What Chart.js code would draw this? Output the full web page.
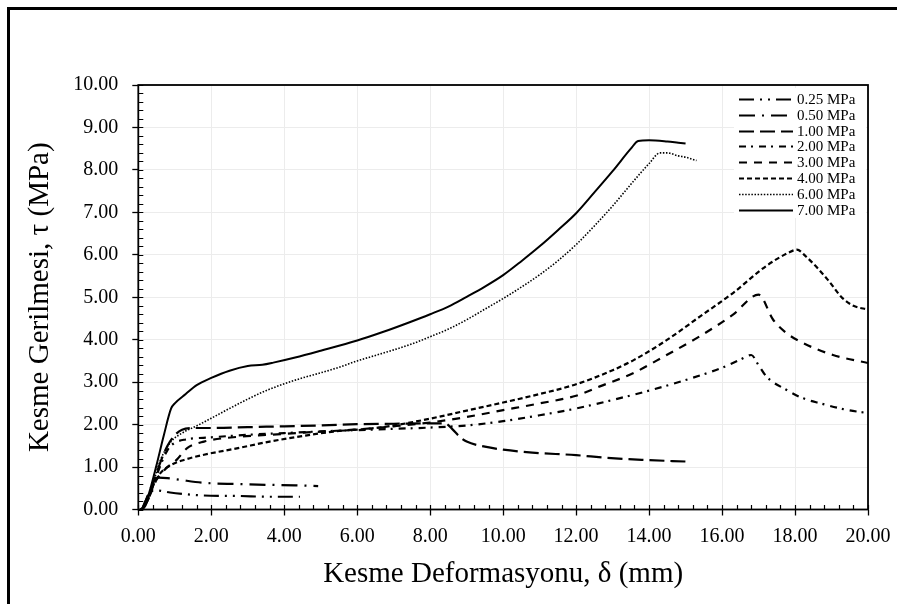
<!DOCTYPE html>
<html>
<head>
<meta charset="utf-8">
<script src="https://cdn.jsdelivr.net/npm/chart.js@4.4.0/dist/chart.umd.min.js"></script>
<style>
  html, body { margin: 0; padding: 0; background: #fff; overflow: hidden; }
  #wrap { position: relative; width: 897px; height: 604px; }
  #frame { position: absolute; left: 7px; top: 7px; width: 900px; height: 610px;
           border-left: 3px solid #000; border-top: 3px solid #000; box-sizing: border-box;
           pointer-events: none; }
  canvas { position: absolute; left: 0; top: 0; }
</style>
</head>
<body>
<div id="wrap">
  <canvas id="c" width="897" height="604"></canvas>
  <div id="frame"></div>
</div>
<script>
// Shear displacement δ (mm) and shear stress τ (MPa) for each normal stress level
const seriesLabels = ['0.25 MPa', '0.50 MPa', '1.00 MPa', '2.00 MPa', '3.00 MPa', '4.00 MPa', '6.00 MPa', '7.00 MPa'];

const d025 = [0.1, 0.2, 0.32, 0.5, 0.87, 1.3, 1.78, 2.7, 3.6, 4.43];
const t025 = [0, 0.2, 0.42, 0.45, 0.40, 0.36, 0.33, 0.32, 0.30, 0.30];

const d050 = [0.1, 0.25, 0.4, 0.55, 0.8, 1.14, 1.78, 2.7, 3.6, 4.3, 4.93];
const t050 = [0, 0.3, 0.62, 0.75, 0.74, 0.70, 0.63, 0.60, 0.58, 0.57, 0.55];

const d100 = [0.1, 0.2, 0.4, 0.6, 0.8, 1.0, 1.2, 1.5, 2.0, 3.0, 4.0, 5.0, 6.0, 7.0, 8.0, 8.4, 8.6, 8.8, 9.0, 9.5, 10.0, 10.8, 12.0, 12.8, 13.8, 15.0];
const t100 = [0, 0.1, 0.6, 1.1, 1.5, 1.75, 1.88, 1.92, 1.92, 1.94, 1.96, 1.98, 2.01, 2.02, 2.03, 2.03, 1.9, 1.72, 1.6, 1.48, 1.41, 1.34, 1.28, 1.22, 1.17, 1.13];

const d200 = [0.1, 0.3, 0.5, 0.8, 1.0, 1.3, 2.0, 3.0, 4.0, 5.0, 6.0, 7.0, 8.0, 9.0, 10.0, 11.0, 12.0, 13.0, 14.0, 15.0, 16.0, 16.5, 16.8, 17.0, 17.22, 17.76, 18.22, 18.7, 19.4, 20.0];
const t200 = [0, 0.3, 0.8, 1.4, 1.57, 1.65, 1.70, 1.76, 1.80, 1.84, 1.87, 1.90, 1.93, 1.98, 2.08, 2.22, 2.38, 2.58, 2.80, 3.05, 3.34, 3.53, 3.64, 3.40, 3.13, 2.82, 2.62, 2.5, 2.35, 2.27];

const d300 = [0.1, 0.3, 0.5, 0.8, 1.05, 1.33, 1.8, 2.7, 3.6, 4.5, 5.9, 7.0, 8.0, 9.0, 10.0, 11.0, 12.0, 12.65, 13.56, 14.48, 15.39, 16.3, 17.0, 17.4, 17.76, 18.13, 19.04, 20.0];
const t300 = [0, 0.3, 0.7, 1.0, 1.17, 1.44, 1.60, 1.71, 1.76, 1.81, 1.88, 1.96, 2.05, 2.18, 2.34, 2.5, 2.68, 2.90, 3.21, 3.64, 4.08, 4.59, 5.06, 4.47, 4.16, 3.96, 3.64, 3.45];

const d400 = [0.1, 0.25, 0.4, 0.6, 0.9, 1.3, 1.8, 2.7, 3.6, 4.5, 5.4, 6.4, 7.0, 8.0, 9.0, 10.0, 11.0, 12.0, 13.0, 13.6, 14.5, 15.4, 16.3, 17.2, 17.8, 18.05, 18.3, 18.9, 19.3, 19.6, 20.0];
const t400 = [0, 0.2, 0.55, 0.85, 1.05, 1.18, 1.29, 1.44, 1.60, 1.73, 1.84, 1.91, 1.98, 2.14, 2.33, 2.52, 2.72, 2.95, 3.28, 3.53, 4.0, 4.55, 5.1, 5.73, 6.04, 6.12, 5.96, 5.41, 4.98, 4.8, 4.71];

const d600 = [0.05, 0.2, 0.4, 0.6, 0.9, 1.2, 1.6, 2.0, 2.5, 3.0, 3.5, 4.0, 4.5, 5.0, 5.5, 6.0, 6.5, 7.0, 7.5, 8.0, 8.5, 9.0, 9.5, 10.0, 10.5, 11.0, 11.5, 12.0, 12.5, 13.0, 13.5, 14.0, 14.3, 14.5, 14.8, 15.0, 15.3];
const t600 = [0, 0.15, 0.6, 1.15, 1.6, 1.8, 1.97, 2.15, 2.38, 2.6, 2.8, 2.96, 3.1, 3.22, 3.35, 3.5, 3.63, 3.76, 3.9, 4.07, 4.25, 4.47, 4.72, 4.97, 5.24, 5.53, 5.86, 6.24, 6.68, 7.15, 7.66, 8.15, 8.40, 8.40, 8.33, 8.30, 8.22];

const d700 = [0.05, 0.15, 0.3, 0.5, 0.7, 0.9, 1.0, 1.3, 1.6, 2.0, 2.5, 3.0, 3.4, 3.7, 4.3, 5.0, 6.0, 6.7, 7.4, 8.0, 8.5, 9.0, 9.5, 10.0, 10.5, 11.0, 11.5, 12.0, 12.5, 13.0, 13.5, 13.7, 14.0, 14.5, 14.8, 15.0];
const t700 = [0, 0.05, 0.4, 1.05, 1.75, 2.38, 2.5, 2.72, 2.93, 3.1, 3.27, 3.38, 3.41, 3.46, 3.58, 3.74, 3.98, 4.18, 4.40, 4.60, 4.78, 5.01, 5.25, 5.52, 5.85, 6.2, 6.58, 6.98, 7.47, 7.97, 8.50, 8.68, 8.70, 8.67, 8.64, 8.62];

// Axis tick values
const xTickValues = [0, 2, 4, 6, 8, 10, 12, 14, 16, 18, 20];
const yTickValues = [0, 1, 2, 3, 4, 5, 6, 7, 8, 9, 10];
const xMinorStep = 0.4;
const yMinorStep = 0.2;

const xTitle = 'Kesme Deformasyonu, δ (mm)';
const yTitle = 'Kesme Gerilmesi, τ (MPa)';

const SERIF = "'Liberation Serif', 'Times New Roman', serif";

const lineStyles = [
  { dash: [15, 6, 2, 6, 2, 6], width: 2.2 },
  { dash: [16, 7, 2, 7], width: 2.2 },
  { dash: [15, 6], width: 2.2 },
  { dash: [7, 5, 2, 6], width: 2.2 },
  { dash: [8, 7], width: 2.2 },
  { dash: [5, 3], width: 2.2 },
  { dash: [1.5, 1.6], width: 1.6 },
  { dash: [], width: 2 }
];

const xs = [d025, d050, d100, d200, d300, d400, d600, d700];
const ys = [t025, t050, t100, t200, t300, t400, t600, t700];

function pairs(a, b) { return a.map((v, i) => ({ x: v, y: b[i] })); }

const datasets = seriesLabels.map((lab, i) => ({
  label: lab,
  data: pairs(xs[i], ys[i]),
  showLine: true,
  borderColor: '#000',
  backgroundColor: '#000',
  borderWidth: lineStyles[i].width,
  borderDash: lineStyles[i].dash,
  pointRadius: 0,
  pointHoverRadius: 0,
  fill: false,
  cubicInterpolationMode: 'monotone'
}));

// Frame around the plot area, inner tick marks and the legend box
const decorations = {
  id: 'decorations',
  afterDatasetsDraw(chart) {
    const { ctx, chartArea: a, scales: { x, y } } = chart;
    ctx.save();
    ctx.strokeStyle = '#000';
    // minor and major tick marks pointing into the plot
    ctx.lineWidth = 1.2;
    ctx.beginPath();
    const nx = Math.round((x.max - x.min) / xMinorStep);
    for (let i = 0; i <= nx; i++) {
      const px = Math.round(x.getPixelForValue(x.min + i * xMinorStep)) + 0.5;
      ctx.moveTo(px, a.bottom);
      ctx.lineTo(px, a.bottom - 4.5);
    }
    const ny = Math.round((y.max - y.min) / yMinorStep);
    for (let i = 0; i <= ny; i++) {
      const py = Math.round(y.getPixelForValue(y.min + i * yMinorStep)) + 0.5;
      ctx.moveTo(a.left, py);
      ctx.lineTo(a.left + 5, py);
    }
    ctx.stroke();
    // plot border
    ctx.lineWidth = 1.8;
    ctx.strokeRect(a.left, a.top, a.right - a.left, a.bottom - a.top);

    // legend
    const boxW = 132, boxH = 130;
    const bx = a.right - boxW - 2, by = a.top + 3;
    ctx.fillStyle = '#fff';
    ctx.fillRect(bx, by, boxW, boxH);
    ctx.font = '15px ' + SERIF;
    ctx.textBaseline = 'middle';
    ctx.textAlign = 'left';
    const rowH = 15.8;
    chart.data.datasets.forEach((ds, i) => {
      const cy = by + 11 + i * rowH;
      ctx.save();
      ctx.strokeStyle = '#000';
      ctx.lineWidth = ds.borderWidth;
      ctx.setLineDash(ds.borderDash);
      ctx.beginPath();
      ctx.moveTo(bx + 5, Math.round(cy) + 0.5);
      ctx.lineTo(bx + 59, Math.round(cy) + 0.5);
      ctx.stroke();
      ctx.restore();
      ctx.fillStyle = '#000';
      ctx.fillText(ds.label, bx + 63, cy + 1);
    });
    ctx.restore();
  }
};

new Chart(document.getElementById('c'), {
  type: 'scatter',
  data: { datasets },
  plugins: [decorations],
  options: {
    responsive: false,
    animation: false,
    devicePixelRatio: 1,
    layout: { padding: { left: 0, top: 85, right: 29, bottom: 0 } },
    plugins: { legend: { display: false }, tooltip: { enabled: false } },
    scales: {
      x: {
        type: 'linear',
        min: 0, max: 20,
        afterFit(s) { s.height = 94.5; s.paddingLeft = 0; s.paddingRight = 0; },
        afterBuildTicks(s) { s.ticks = xTickValues.map(v => ({ value: v })); },
        grid: { color: '#ececec', lineWidth: 1, drawTicks: true, tickLength: 6, tickColor: '#000', tickWidth: 1.3 },
        border: { display: false },
        ticks: {
          color: '#000', padding: 9, maxRotation: 0, autoSkip: false,
          font: { family: SERIF, size: 20 },
          callback: v => Number(v).toFixed(2)
        },
        title: {
          display: true, text: xTitle, color: '#000',
          font: { family: SERIF, size: 29 },
          padding: { top: 0, bottom: 12.6 }
        }
      },
      y: {
        type: 'linear',
        min: 0, max: 10,
        afterFit(s) { s.width = 138.3; s.paddingTop = 0; s.paddingBottom = 0; },
        afterBuildTicks(s) { s.ticks = yTickValues.map(v => ({ value: v })); },
        grid: { color: '#ececec', lineWidth: 1, drawTicks: true, tickLength: 6, tickColor: '#000', tickWidth: 1.3 },
        border: { display: false },
        ticks: {
          color: '#000', padding: 14, autoSkip: false,
          font: { family: SERIF, size: 20 },
          callback: v => Number(v).toFixed(2)
        },
        title: {
          display: true, text: yTitle, color: '#000',
          font: { family: SERIF, size: 29 },
          padding: { top: 22.6, bottom: 0 }
        }
      }
    }
  }
});
</script>
</body>
</html>
